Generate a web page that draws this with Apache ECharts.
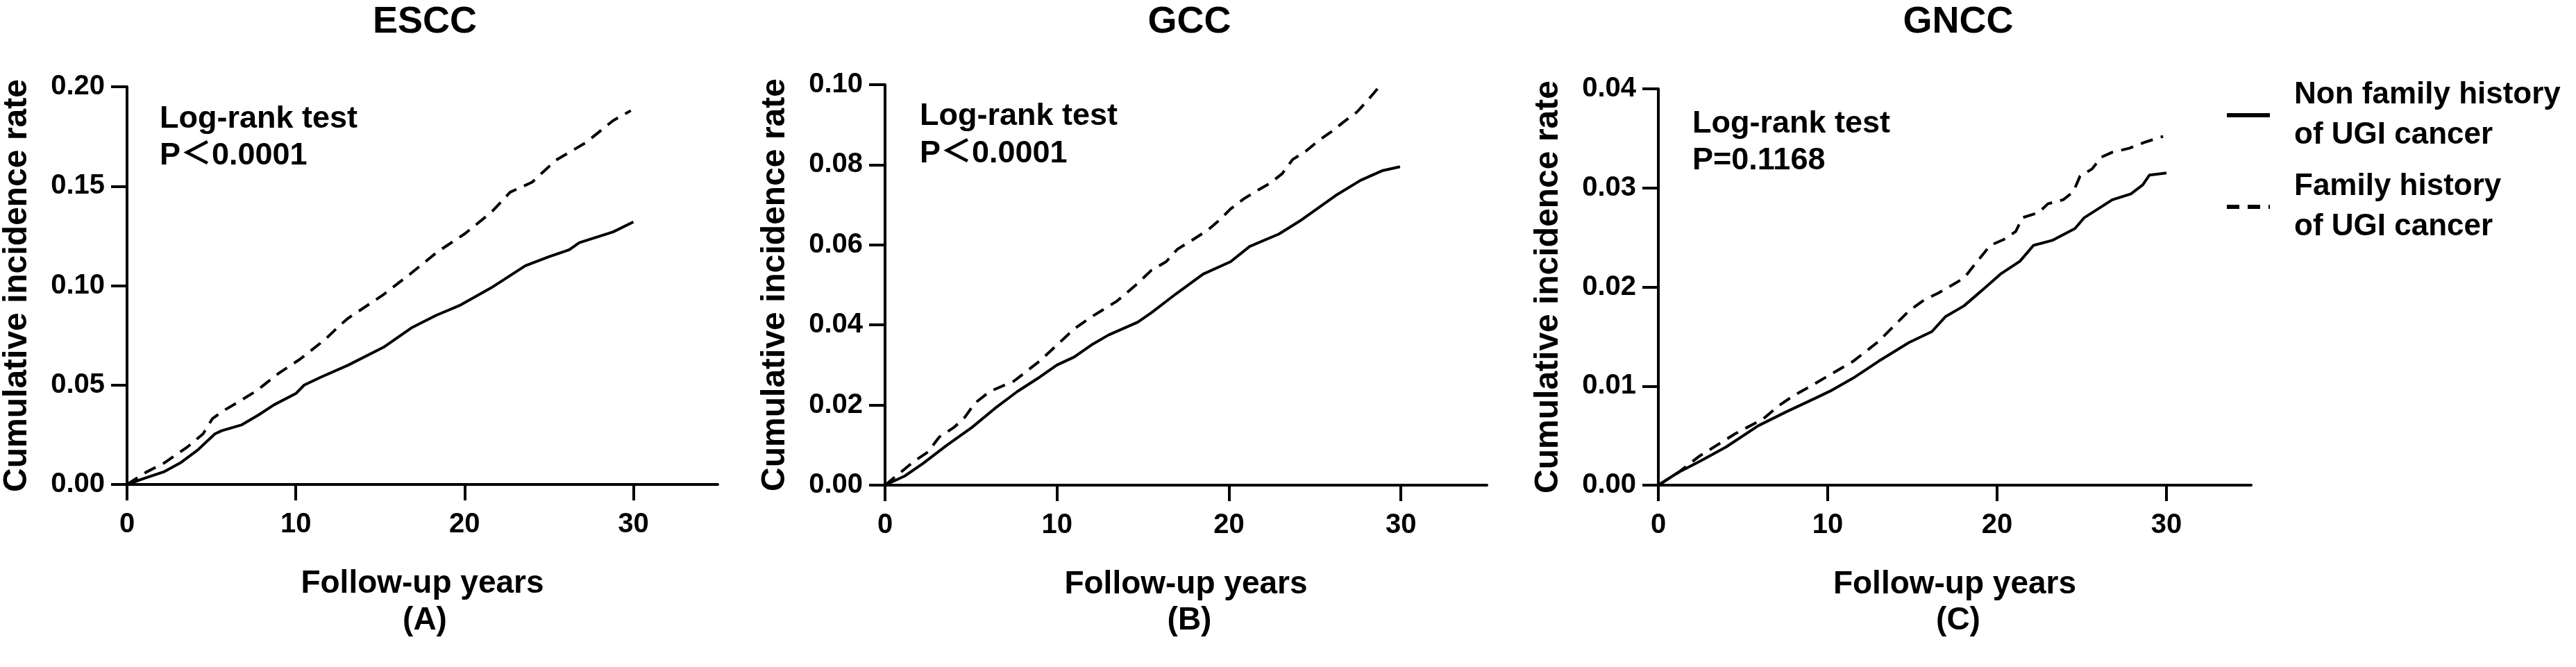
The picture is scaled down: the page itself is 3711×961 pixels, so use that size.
<!DOCTYPE html>
<html>
<head>
<meta charset="utf-8">
<script src="https://cdn.jsdelivr.net/npm/echarts@6/dist/echarts.min.js"></script>
<style>
html,body{margin:0;padding:0;background:#fff;}
#chart{width:3711px;height:961px;}
</style>
</head>
<body>
<div id="chart"></div>
<script>
// ---------- data ----------
const panelTitles = ['ESCC', 'GCC', 'GNCC'];
const panelLetters = ['(A)', '(B)', '(C)'];
const pValues = ['P\uFF1C0.0001', 'P\uFF1C0.0001', 'P=0.1168'];
const seriesNames = ['Non family history\nof UGI cancer', 'Family history\nof UGI cancer'];
const xTicks = [0, 10, 20, 30];
const yMax = [0.20, 0.10, 0.04];
const yInterval = [0.05, 0.02, 0.01];

// [follow-up years, cumulative incidence]
const esccNonFamily = [[0,0],[1,0.003],[2.17,0.0063],[3.15,0.0108],[4.2,0.0174],[5.2,0.0254],[5.6,0.027],[6.8,0.030],[7.8,0.035],[8.7,0.040],[10.0,0.0457],[10.5,0.050],[11.5,0.054],[13.1,0.060],[15.2,0.069],[16.9,0.079],[18.3,0.085],[19.7,0.090],[21.6,0.099],[23.6,0.110],[25,0.1145],[26.2,0.118],[26.8,0.1216],[28.8,0.127],[30,0.132]];
const esccFamily = [[0,0],[1.1,0.006],[2.2,0.0108],[3.6,0.019],[4.5,0.0254],[5.05,0.033],[5.7,0.037],[6.7,0.042],[7.65,0.047],[9.0,0.056],[10.25,0.063],[11.75,0.073],[12.6,0.080],[13.1,0.0836],[15.2,0.0955],[16.8,0.106],[18.4,0.117],[20.0,0.126],[21.6,0.137],[22.7,0.147],[24.0,0.152],[25.4,0.163],[27.2,0.172],[28.8,0.183],[29.85,0.188]];
const gccNonFamily = [[0,0],[1.15,0.0023],[2.2,0.0054],[3.6,0.010],[5.05,0.0144],[6.4,0.0192],[7.7,0.0234],[9,0.027],[10,0.030],[11,0.032],[12,0.035],[13,0.0375],[14.7,0.0407],[15.5,0.0431],[16.9,0.0477],[18.5,0.0527],[20.1,0.0558],[21.2,0.0596],[22.9,0.0627],[24.1,0.0659],[26.2,0.0723],[27.65,0.0761],[28.9,0.0785],[29.95,0.0795]];
const gccFamily = [[0,0],[1.7,0.006],[2.5,0.0083],[3.15,0.012],[4.0,0.0144],[4.65,0.017],[5.2,0.0204],[6.1,0.0234],[7.5,0.026],[9,0.031],[10,0.035],[11,0.039],[12,0.042],[13.5,0.046],[14.7,0.0504],[15.5,0.0537],[16.35,0.0558],[17.0,0.0589],[17.8,0.061],[18.8,0.0638],[19.45,0.0662],[20.1,0.069],[20.9,0.0716],[21.7,0.0737],[22.4,0.0754],[23.1,0.0778],[23.7,0.0813],[24.5,0.0835],[25.2,0.086],[26.0,0.0884],[26.7,0.0908],[27.45,0.0932],[28.05,0.096],[28.7,0.0993]];
const gnccNonFamily = [[0,0],[1.15,0.00126],[2.5,0.00245],[4.0,0.00385],[5.9,0.0060],[7.55,0.0074],[9.3,0.0088],[10.15,0.0095],[11.5,0.0108],[13,0.0125],[14.8,0.0144],[16.15,0.0155],[16.95,0.0170],[18.05,0.0181],[19.0,0.0195],[20.2,0.0213],[21.35,0.0226],[22.15,0.0242],[23.25,0.0247],[24.6,0.0259],[25.15,0.0270],[26.8,0.0288],[27.9,0.0294],[28.6,0.0303],[29.0,0.0313],[30,0.0315]];
const gnccFamily = [[0,0],[1.2,0.0013],[2.4,0.0029],[4.55,0.0052],[6.2,0.0067],[7.1,0.0080],[7.95,0.0090],[9,0.0100],[10,0.0110],[11.5,0.0125],[13,0.0145],[14.8,0.0176],[15.7,0.0187],[16.55,0.0194],[18.05,0.0209],[18.6,0.0221],[19.6,0.0242],[20.4,0.0248],[21.1,0.0256],[21.5,0.0270],[22.45,0.0275],[23.0,0.0284],[23.9,0.0288],[24.5,0.0296],[24.9,0.0312],[25.6,0.0319],[26.15,0.0331],[26.8,0.0336],[27.8,0.0340],[28.7,0.0346],[29.8,0.0352]];

const nonFamilyData = [esccNonFamily, gccNonFamily, gnccNonFamily];
const familyData = [esccFamily, gccFamily, gnccFamily];

// ---------- layout ----------
const FONT = "'Liberation Sans', Arial, sans-serif";
const grids = [
  {left: 180, top: 125, width: 854, height: 573},
  {left: 1275, top: 122, width: 867, height: 577},
  {left: 2389, top: 128, width: 854, height: 571}
];
const logRankPos = [
  {x: 230, y1: 172, y2: 225},
  {x: 1325, y1: 168, y2: 222},
  {x: 2438, y1: 179, y2: 232}
];

const chart = echarts.init(document.getElementById('chart'));

const xAxes = [], yAxes = [], series = [], titles = [], graphics = [];
for (let i = 0; i < 3; i++) {
  const g = grids[i];
  xAxes.push({
    type: 'value', gridIndex: i, min: 0, max: 35, interval: 10,
    name: 'Follow-up years', nameLocation: 'middle', nameGap: 120,
    nameTextStyle: {fontFamily: FONT, fontWeight: 'bold', fontSize: 46, color: '#000'},
    axisLine: {show: true, onZero: false, lineStyle: {color: '#000', width: 4}},
    axisTick: {show: true, length: 23, lineStyle: {color: '#000', width: 4}, customValues: xTicks},
    axisLabel: {color: '#000', fontFamily: FONT, fontWeight: 'bold', fontSize: 40, margin: 38, customValues: xTicks},
    splitLine: {show: false}
  });
  yAxes.push({
    type: 'value', gridIndex: i, min: 0, max: yMax[i], interval: yInterval[i],
    name: 'Cumulative incidence rate', nameLocation: 'middle', nameGap: 134, nameRotate: 90,
    nameTextStyle: {fontFamily: FONT, fontWeight: 'bold', fontSize: 48, color: '#000'},
    axisLine: {show: true, onZero: false, lineStyle: {color: '#000', width: 4}},
    axisTick: {show: true, length: 23, lineStyle: {color: '#000', width: 4}},
    axisLabel: {color: '#000', fontFamily: FONT, fontWeight: 'bold', fontSize: 40, margin: 32,
      formatter: v => v.toFixed(2)},
    splitLine: {show: false}
  });
  series.push({
    name: seriesNames[0], type: 'line', xAxisIndex: i, yAxisIndex: i,
    data: nonFamilyData[i], symbol: 'none', smooth: false, color: '#000',
    itemStyle: {color: '#000'},
    lineStyle: {color: '#000', width: 4, type: 'solid'}, z: 3
  });
  series.push({
    name: seriesNames[1], type: 'line', xAxisIndex: i, yAxisIndex: i,
    data: familyData[i], symbol: 'none', smooth: false, color: '#000',
    itemStyle: {color: '#000'},
    lineStyle: {color: '#000', width: 4, type: [18, 12]}, z: 3
  });
  const cx = g.left + g.width / 2;
  titles.push({
    text: panelTitles[i], left: cx, top: 0, textAlign: 'center',
    textStyle: {fontFamily: FONT, fontWeight: 'bold', fontSize: 54, color: '#000'}
  });
  titles.push({
    text: panelLetters[i], left: cx, top: 866, textAlign: 'center',
    textStyle: {fontFamily: FONT, fontWeight: 'bold', fontSize: 46, color: '#000'}
  });
  const lp = logRankPos[i];
  graphics.push({
    type: 'text', x: lp.x, y: lp.y1,
    style: {text: 'Log-rank test', font: 'bold 45px ' + FONT, fill: '#000', verticalAlign: 'middle'}
  });
  graphics.push({
    type: 'text', x: lp.x, y: lp.y2,
    style: {text: pValues[i], font: 'bold 45px ' + FONT + ", 'Noto Sans CJK SC'", fill: '#000', verticalAlign: 'middle'}
  });
}

chart.setOption({
  backgroundColor: '#fff',
  animation: false,
  title: titles,
  grid: grids,
  xAxis: xAxes,
  yAxis: yAxes,
  legend: {
    orient: 'vertical', left: 3200, top: 103, itemGap: 16,
    itemWidth: 62, itemHeight: 14, selectedMode: false,
    data: seriesNames,
    itemStyle: {opacity: 0},
    lineStyle: {width: 6, color: '#000'},
    textStyle: {fontFamily: FONT, fontWeight: 'bold', fontSize: 44, color: '#000', lineHeight: 58,
      padding: [0, 0, 0, 30]}
  },
  graphic: graphics,
  series: series
});
</script>
</body>
</html>
